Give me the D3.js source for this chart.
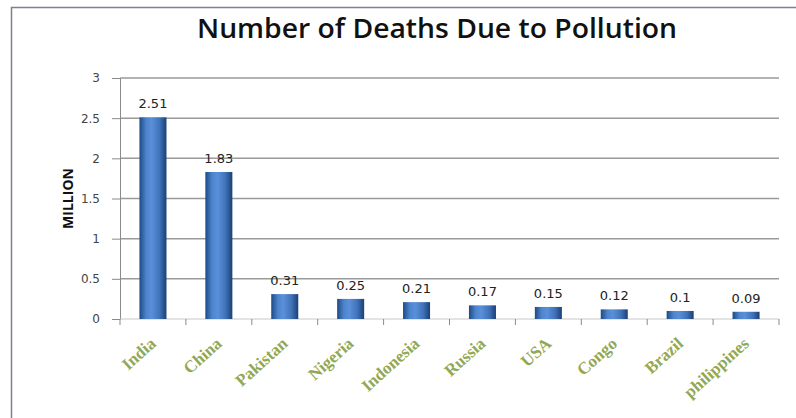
<!DOCTYPE html>
<html>
<head>
<meta charset="utf-8">
<script src="https://cdn.jsdelivr.net/npm/d3@7"></script>
<style>
  html, body { margin: 0; padding: 0; background: #ffffff; }
  svg { display: block; }
</style>
</head>
<body>
<svg id="chart" width="796" height="418"></svg>
<script>
// Deaths attributed to pollution, in millions
const countries = ["India", "China", "Pakistan", "Nigeria", "Indonesia", "Russia", "USA", "Congo", "Brazil", "philippines"];
const deaths = [2.51, 1.83, 0.31, 0.25, 0.21, 0.17, 0.15, 0.12, 0.1, 0.09];
const yTicks = [0, 0.5, 1, 1.5, 2, 2.5, 3];
const yTickLabels = ["0", "0.5", "1", "1.5", "2", "2.5", "3"];

const svg = d3.select("#chart");
const W = 796, H = 418;
const plot = { left: 120, right: 779, top: 78, bottom: 319 };

// Outer frame (runs off the right and bottom edges)
svg.append("rect")
  .attr("x", 11.5).attr("y", 7.5)
  .attr("width", W + 10).attr("height", H + 10)
  .attr("fill", "#ffffff")
  .attr("stroke", "#857d8c").attr("stroke-width", 1.5);

// Bar gradient (cylinder shading)
const defs = svg.append("defs");
const grad = defs.append("linearGradient").attr("id", "barGrad")
  .attr("x1", "0%").attr("x2", "100%").attr("y1", "0%").attr("y2", "0%");
[["0%", "#1d4a86"], ["25%", "#4d84cc"], ["45%", "#5a90da"], ["75%", "#3f72b8"], ["100%", "#1b3f74"]]
  .forEach(([o, c]) => grad.append("stop").attr("offset", o).attr("stop-color", c));

const x = d3.scaleBand().domain(countries).range([plot.left, plot.right]).paddingInner(0.59).paddingOuter(0.295);
const y = d3.scaleLinear().domain([0, 3]).range([plot.bottom, plot.top]);

// Title
svg.append("text")
  .attr("x", 437).attr("y", 38)
  .attr("text-anchor", "middle")
  .attr("font-family", "'Open Sans', 'Noto Sans', sans-serif")
  .attr("font-weight", 600)
  .attr("font-size", 27)
  .attr("fill", "#111")
  .attr("textLength", 480).attr("lengthAdjust", "spacingAndGlyphs")
  .text("Number of Deaths Due to Pollution");

// Horizontal gridlines
svg.append("g").selectAll("line")
  .data(yTicks.filter(t => t > 0))
  .join("line")
  .attr("x1", plot.left).attr("x2", plot.right)
  .attr("y1", d => y(d)).attr("y2", d => y(d))
  .attr("stroke", "#9a9a9a").attr("stroke-width", 1.5);

// Y axis
const yAxis = d3.axisLeft(y).tickValues(yTicks)
  .tickFormat((d, i) => yTickLabels[i]).tickSize(8).tickPadding(12);
const gy = svg.append("g").attr("transform", `translate(${plot.left},0)`).call(yAxis);
gy.select(".domain").attr("stroke", "#8a8a8a");
gy.selectAll(".tick line").attr("stroke", "#8a8a8a");
gy.selectAll(".tick text")
  .attr("font-family", "'DejaVu Sans', sans-serif")
  .attr("font-size", 12).attr("fill", "#444");

// X axis baseline with category separators
svg.append("line")
  .attr("x1", plot.left).attr("x2", plot.right)
  .attr("y1", y(0)).attr("y2", y(0))
  .attr("stroke", "#c8c8c8").attr("stroke-width", 1);
const step = x.step();
svg.append("g").selectAll("line")
  .data(d3.range(countries.length + 1))
  .join("line")
  .attr("x1", i => plot.left + i * step).attr("x2", i => plot.left + i * step)
  .attr("y1", y(0)).attr("y2", y(0) + 6)
  .attr("stroke", "#8a8a8a");

// Y axis title
svg.append("text")
  .attr("transform", `translate(73,${(plot.top + plot.bottom) / 2}) rotate(-90)`)
  .attr("text-anchor", "middle")
  .attr("font-family", "'Open Sans', sans-serif")
  .attr("font-weight", 700).attr("font-size", 14)
  .attr("fill", "#111")
  .text("MILLION");

// Bars
svg.append("g").selectAll("rect")
  .data(countries)
  .join("rect")
  .attr("x", d => x(d))
  .attr("y", (d, i) => y(deaths[i]))
  .attr("width", x.bandwidth())
  .attr("height", (d, i) => y(0) - y(deaths[i]))
  .attr("fill", "url(#barGrad)");

// Value labels
svg.append("g").selectAll("text")
  .data(countries)
  .join("text")
  .attr("x", d => x(d) + x.bandwidth() / 2)
  .attr("y", (d, i) => y(deaths[i]) - 9)
  .attr("text-anchor", "middle")
  .attr("font-family", "'DejaVu Sans', sans-serif")
  .attr("font-size", 13).attr("fill", "#222")
  .text((d, i) => String(deaths[i]));

// Category labels, rotated
svg.append("g").selectAll("text")
  .data(countries)
  .join("text")
  .attr("transform", d => `translate(${x(d) + x.bandwidth() / 2 + 4},${plot.bottom + 26}) rotate(-42)`)
  .attr("text-anchor", "end")
  .attr("font-family", "'Liberation Serif', serif")
  .attr("font-weight", 700).attr("font-size", 17)
  .attr("fill", "#93a852")
  .text(d => d);
</script>
</body>
</html>
